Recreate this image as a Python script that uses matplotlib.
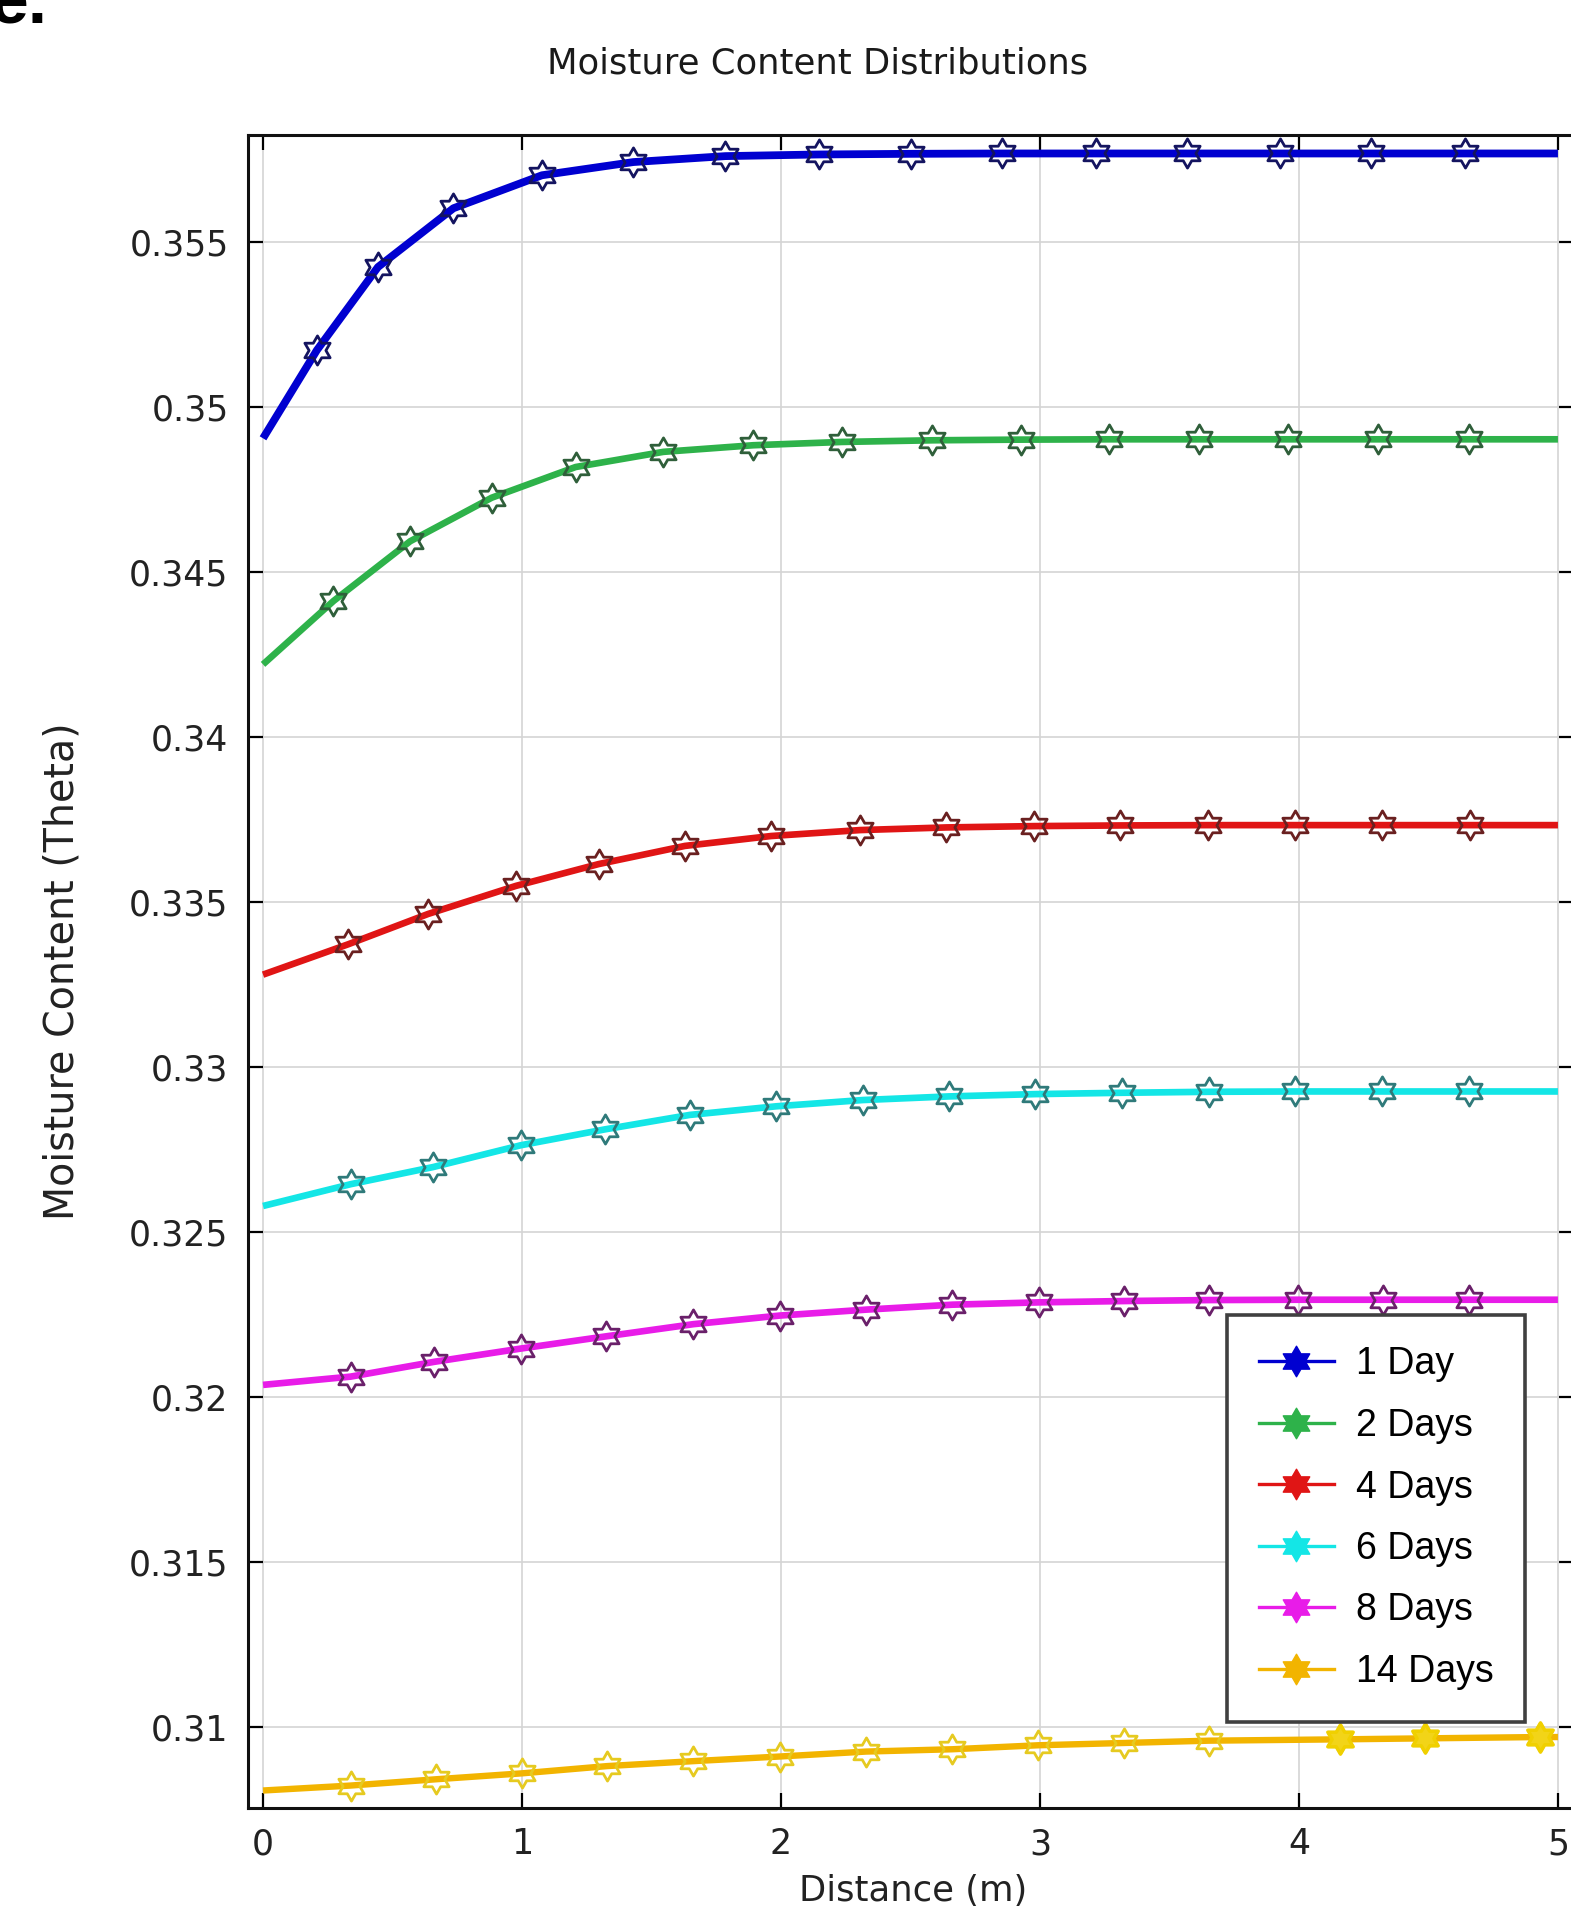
import matplotlib
matplotlib.use("Agg")
import matplotlib.pyplot as plt
from matplotlib.path import Path
from matplotlib.lines import Line2D
import numpy as np

# ---------------- data ----------------
series_labels = ["1 Day", "2 Days", "4 Days", "6 Days", "8 Days", "14 Days"]

x_1day = [0.0, 0.208, 0.444, 0.735, 1.077, 1.43, 1.785, 2.146, 2.502, 2.854, 3.216, 3.568, 3.925, 4.28, 4.643, 5.0]
y_1day = [0.34905, 0.35172, 0.35424, 0.35602, 0.35702, 0.35742, 0.35760, 0.35765, 0.35767, 0.35768, 0.35768, 0.35768, 0.35768, 0.35768, 0.35768, 0.35768]

x_2days = [0.0, 0.272, 0.568, 0.883, 1.207, 1.546, 1.893, 2.236, 2.584, 2.925, 3.268, 3.615, 3.958, 4.305, 4.657, 5.0]
y_2days = [0.34220, 0.34412, 0.34593, 0.34725, 0.34818, 0.34864, 0.34884, 0.34894, 0.34899, 0.34901, 0.34902, 0.34902, 0.34902, 0.34902, 0.34902, 0.34902]

x_4days = [0.0, 0.329, 0.638, 0.977, 1.296, 1.629, 1.962, 2.305, 2.638, 2.977, 3.31, 3.648, 3.986, 4.319, 4.662, 5.0]
y_4days = [0.33280, 0.33372, 0.33464, 0.33549, 0.33615, 0.33670, 0.33700, 0.33718, 0.33726, 0.33730, 0.33732, 0.33733, 0.33733, 0.33733, 0.33733, 0.33733]

x_6days = [0.0, 0.338, 0.657, 0.995, 1.319, 1.648, 1.981, 2.315, 2.648, 2.981, 3.315, 3.653, 3.986, 4.319, 4.657, 5.0]
y_6days = [0.32579, 0.32645, 0.32697, 0.32763, 0.32811, 0.32855, 0.32881, 0.32900, 0.32911, 0.32918, 0.32922, 0.32925, 0.32926, 0.32926, 0.32926, 0.32926]

x_8days = [0.0, 0.338, 0.662, 0.995, 1.324, 1.662, 1.995, 2.329, 2.662, 2.995, 3.324, 3.653, 3.995, 4.324, 4.657, 5.0]
y_8days = [0.32037, 0.32062, 0.32107, 0.32147, 0.32184, 0.32221, 0.32247, 0.32265, 0.32280, 0.32287, 0.32291, 0.32294, 0.32295, 0.32295, 0.32295, 0.32295]

x_14days = [0.0, 0.338, 0.667, 1.0, 1.329, 1.662, 1.995, 2.329, 2.662, 2.991, 3.324, 3.653, 4.16, 4.488, 4.93, 5.0]
y_14days = [0.30808, 0.30823, 0.30842, 0.30860, 0.30882, 0.30897, 0.30911, 0.30926, 0.30933, 0.30945, 0.30952, 0.30959, 0.30963, 0.30966, 0.30970, 0.30970]

x_ticks = [0, 1, 2, 3, 4, 5]
x_tick_labels = ["0", "1", "2", "3", "4", "5"]
y_ticks = [0.31, 0.315, 0.32, 0.325, 0.33, 0.335, 0.34, 0.345, 0.35, 0.355]
y_tick_labels = ["0.31", "0.315", "0.32", "0.325", "0.33", "0.335", "0.34", "0.345", "0.35", "0.355"]

title_text = "Moisture Content Distributions"
x_label = "Distance (m)"
y_label = "Moisture Content (Theta)"
panel_label = "e."

# ---------------- style ----------------
line_colors = ["#0000D0", "#2EB24A", "#E01515", "#14E6E6", "#E81CE8", "#F2B400"]
edge_colors = ["#141460", "#2F5F3A", "#6A2020", "#2F7A7A", "#6A206A", "#E6CA20"]
face_colors = ["none", "none", "none", "none", "none", "none"]
line_widths = [5.6, 4.8, 4.8, 4.8, 4.8, 4.6]

W, H = 1571, 1909
fig = plt.figure(figsize=(W / 100, H / 100), dpi=100)

ax_left, ax_right, ax_top, ax_bottom = 248, 1574, 135, 1808
ax = fig.add_axes([ax_left / W, 1 - ax_bottom / H, (ax_right - ax_left) / W, (ax_bottom - ax_top) / H])

star = Path.unit_regular_star(6, innerCircle=0.577)

xs = [x_1day, x_2days, x_4days, x_6days, x_8days, x_14days]
ys = [y_1day, y_2days, y_4days, y_6days, y_8days, y_14days]

for xv, yv, c, ec, fc, lw in zip(xs, ys, line_colors, edge_colors, face_colors, line_widths):
    ax.plot(xv, yv, color=c, lw=lw, solid_capstyle="butt", zorder=3)
    ax.plot(xv[1:-1], yv[1:-1], ls="none", marker=star, markersize=21,
            markeredgecolor=ec, markerfacecolor=fc, markeredgewidth=2.0, zorder=4)

# the 14-day markers beyond x = 4 appear as filled gold blobs in the reference
xv14 = np.array(x_14days[1:-1])
yv14 = np.array(y_14days[1:-1])
sel = xv14 > 4
ax.plot(xv14[sel], yv14[sel], ls="none", marker=star, markersize=21,
        markeredgecolor="#F0D000", markerfacecolor="#F2D418", markeredgewidth=2.5, zorder=5)

ax.set_xlim(-0.058, 5.062)
ax.set_ylim(0.30755, 0.35824)
ax.set_xticks(x_ticks)
ax.set_xticklabels(x_tick_labels)
ax.set_yticks(y_ticks)
ax.set_yticklabels(y_tick_labels)

ax.grid(True, color="#d4d4d4", lw=1.2, zorder=0)
ax.tick_params(direction="in", length=11, width=1.6, top=True, right=True,
               labelsize=25, labelcolor="#222222", pad=14)
for lab in ax.get_xticklabels() + ax.get_yticklabels():
    lab.set_family("DejaVu Sans")
for sp in ax.spines.values():
    sp.set_linewidth(2.2)
    sp.set_color("#111111")

# legend
handles = [Line2D([0], [0], color=c, lw=2.4, marker=star, markersize=22,
                  markerfacecolor=c, markeredgecolor=c)
           for c in line_colors]
leg = fig.legend(handles, series_labels, loc="upper left",
                 bbox_to_anchor=(1227 / W, 1 - 1315 / H), borderaxespad=0,
                 prop={"family": "Liberation Sans", "size": 27},
                 handlelength=2.0, handletextpad=0.6, labelspacing=0.68,
                 borderpad=0.84, fancybox=False, framealpha=1)
leg.get_frame().set_edgecolor("#404040")
leg.get_frame().set_linewidth(2.6)
leg.set_zorder(10)

# texts
fig.text(818 / W, 1 - 63 / H, title_text, ha="center", va="center",
         fontsize=25.5, family="DejaVu Sans", color="#1a1a1a")
fig.text(913 / W, 1 - 1891 / H, x_label, ha="center", va="center",
         fontsize=25.5, family="DejaVu Sans", color="#222222")
fig.text(63 / W, 1 - 971 / H, y_label, ha="center", va="center", rotation=90,
         fontsize=28.5, family="DejaVu Sans", color="#222222")
fig.text(47 / W, 1 - 24 / H, panel_label, ha="right", va="baseline",
         fontsize=50, weight="bold", family="Liberation Sans", color="black")

fig.savefig("out.png", dpi=100, facecolor="white")
